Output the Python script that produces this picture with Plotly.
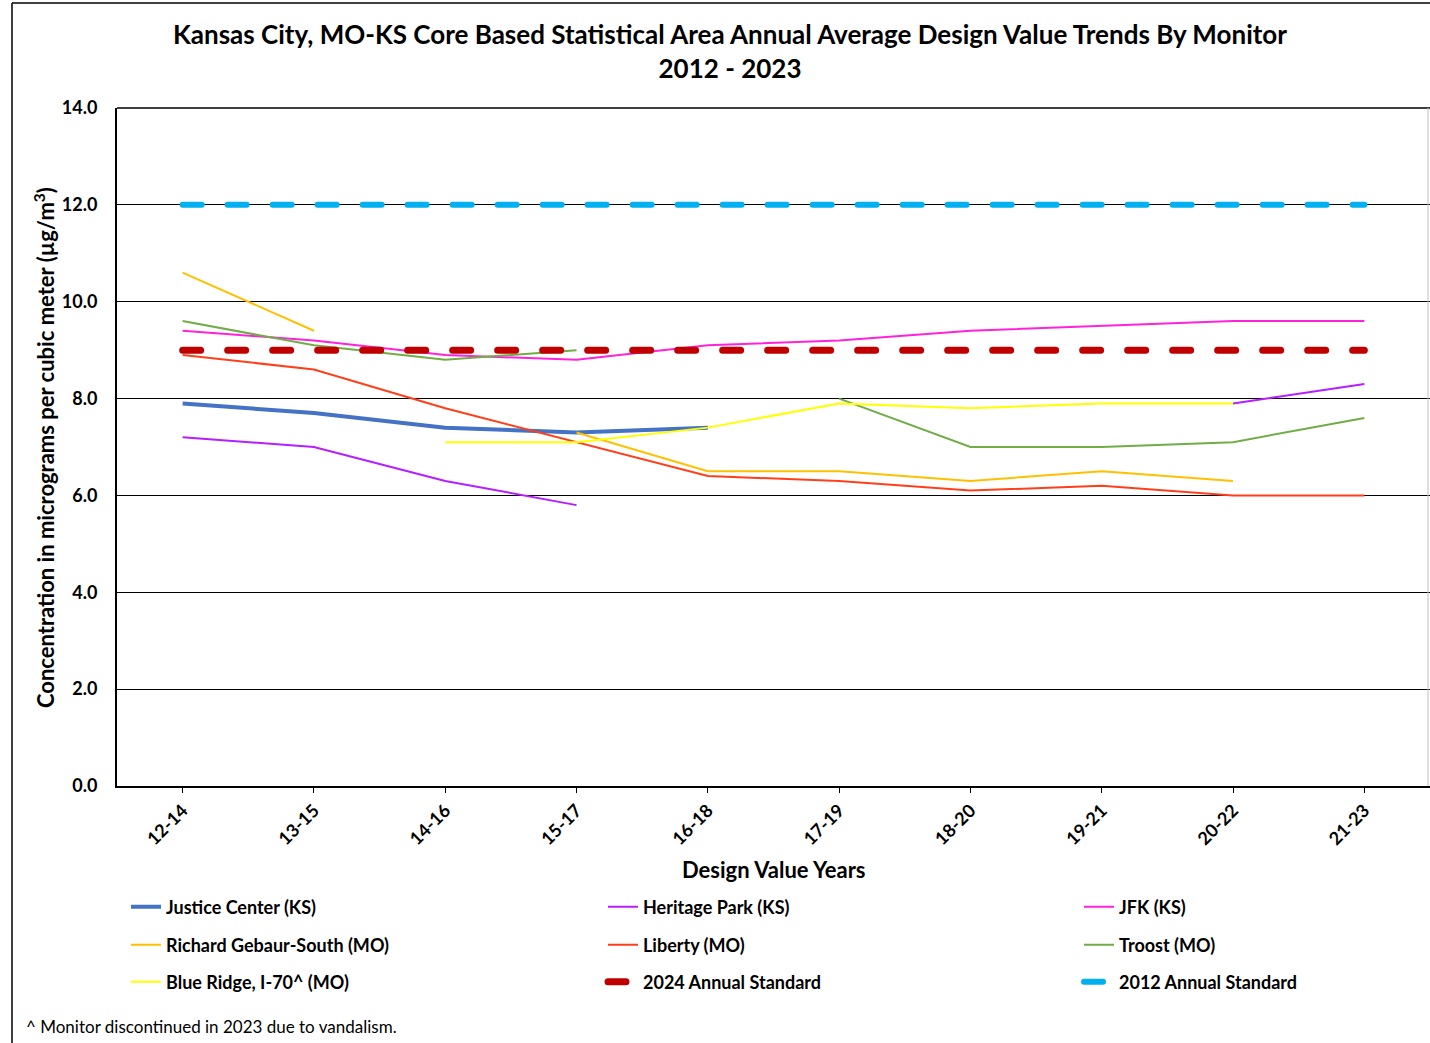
import plotly.graph_objects as go

categories = ["12-14", "13-15", "14-16", "15-17", "16-18", "17-19", "18-20", "19-21", "20-22", "21-23"]

justice_center = [7.9, 7.7, 7.4, 7.3, 7.4, None, None, None, None, None]
heritage_park = [7.2, 7.0, 6.3, 5.8, None, None, None, None, 7.9, 8.3]
jfk = [9.4, 9.2, 8.9, 8.8, 9.1, 9.2, 9.4, 9.5, 9.6, 9.6]
gebaur_south = [10.6, 9.4, None, 7.3, 6.5, 6.5, 6.3, 6.5, 6.3, None]
liberty = [8.9, 8.6, 7.8, 7.1, 6.4, 6.3, 6.1, 6.2, 6.0, 6.0]
troost = [9.6, 9.1, 8.8, 9.0, None, 8.0, 7.0, 7.0, 7.1, 7.6]
blue_ridge = [None, None, 7.1, 7.1, 7.4, 7.9, 7.8, 7.9, 7.9, None]
std_2024 = [9.0] * 10
std_2012 = [12.0] * 10

y_ticks = [0, 2, 4, 6, 8, 10, 12, 14]

FONT = "Lato"
W, H = 1430, 1043
L, T, B = 117, 108, 257
PW, PH = W - L, H - T - B  # plot area size in px


def px_x(x):
    return (x - L) / PW


def px_y(y):
    return (H - B - y) / PH


series = [
    ("Justice Center (KS)", justice_center, "#4472C4", 4, "solid"),
    ("Heritage Park (KS)", heritage_park, "#B71EFF", 2, "solid"),
    ("JFK (KS)", jfk, "#FF22DD", 2, "solid"),
    ("Richard Gebaur-South (MO)", gebaur_south, "#FFC000", 2, "solid"),
    ("Liberty (MO)", liberty, "#FF3F1A", 2, "solid"),
    ("Troost (MO)", troost, "#70AD47", 2, "solid"),
    ("Blue Ridge, I-70^ (MO)", blue_ridge, "#FFFF00", 2, "solid"),
    ("2024 Annual Standard", std_2024, "#C00000", 7, "18px,27px"),
    ("2012 Annual Standard", std_2012, "#00B0F0", 6, "19px,26px"),
]

col_x = [126, 603, 1079]
row_y = [907, 945, 982]
leg_font = dict(family=FONT, size=18, color="black", weight="bold")

fig = go.Figure()
legends = {}
for i, (name, vals, color, width, dash) in enumerate(series):
    key = "legend" if i == 0 else f"legend{i + 1}"
    fig.add_trace(go.Scatter(
        x=categories, y=vals, name=name, mode="lines",
        line=dict(color=color, width=width, dash=dash),
        connectgaps=False, legend=key,
    ))
    legends[key] = dict(
        orientation="v", xref="container", yref="container",
        x=col_x[i % 3] / W, xanchor="left",
        y=1 - row_y[i // 3] / H, yanchor="middle",
        font=leg_font, bgcolor="rgba(0,0,0,0)", borderwidth=0,
    )

fig.update_layout(
    width=W, height=H,
    margin=dict(l=L, r=0, t=T, b=B, autoexpand=False),
    paper_bgcolor="white", plot_bgcolor="white",
    title=dict(
        text="Kansas City, MO-KS Core Based Statistical Area Annual Average Design Value Trends By Monitor<br>2012 - 2023",
        x=730 / W, xanchor="center", y=1 - 44 / H, yanchor="middle",
        font=dict(family=FONT, size=26, color="black", weight="bold"),
    ),
    showlegend=True,
    **legends,
)

fig.update_xaxes(
    type="category", range=[-0.5, 9.5], automargin=False,
    showline=True, linecolor="black", linewidth=2,
    ticks="outside", ticklen=5, tickcolor="black", tickwidth=1,
    tickangle=-45,
    tickfont=dict(family=FONT, size=18, color="black", weight="bold"),
    showgrid=False, zeroline=False,
)
fig.update_yaxes(
    range=[0, 14], tickvals=y_ticks, tickformat=".1f", automargin=False,
    showline=True, linecolor="black", linewidth=2,
    showgrid=True, gridcolor="black", gridwidth=1,
    zeroline=False, ticks="",
    ticklabelstandoff=14,
    tickfont=dict(family=FONT, size=18, color="black", weight="bold"),
)

# x axis title
fig.add_annotation(
    text="Design Value Years", xref="paper", yref="paper",
    x=px_x(774), y=px_y(869), xanchor="center", yanchor="middle",
    showarrow=False, font=dict(family=FONT, size=22, color="black", weight="bold"),
)
# y axis title
fig.add_annotation(
    text="Concentration in micrograms per cubic meter (µg/m<sup>3</sup>)",
    xref="paper", yref="paper",
    x=px_x(44), y=px_y(448), xanchor="center", yanchor="middle",
    textangle=-90, showarrow=False,
    font=dict(family=FONT, size=22, color="black", weight="bold"),
)
# footnote
fig.add_annotation(
    text="^ Monitor discontinued in 2023 due to vandalism.",
    xref="paper", yref="paper",
    x=px_x(24), y=px_y(1026), xanchor="left", yanchor="middle",
    showarrow=False, font=dict(family=FONT, size=17, color="black"),
)
# top border of plot area and light right edge
fig.add_shape(type="line", xref="paper", yref="paper", x0=0, x1=1, y0=1, y1=1,
              line=dict(color="black", width=1.5))
fig.add_shape(type="line", xref="paper", yref="paper", x0=px_x(1428), x1=px_x(1428), y0=0, y1=1,
              line=dict(color="#BFBFBF", width=1))
# outer chart frame (left and top edges)
fig.add_shape(type="line", xref="paper", yref="paper",
              x0=px_x(12), x1=px_x(12), y0=px_y(H), y1=px_y(3),
              line=dict(color="black", width=1.5))
fig.add_shape(type="line", xref="paper", yref="paper",
              x0=px_x(12), x1=1, y0=px_y(3), y1=px_y(3),
              line=dict(color="black", width=1.5))

post = """
document.body.style.margin='0';
document.body.style.overflow='hidden';
function roundCaps(){
  document.querySelectorAll('path.js-line, g.legendlines path').forEach(function(p){
    var da = p.style.strokeDasharray;
    if (da && da !== 'none' && da !== '') { p.style.strokeLinecap = 'round'; }
  });
}
roundCaps(); setTimeout(roundCaps, 50); setTimeout(roundCaps, 300);
"""

fig.write_html("out.html", config={"displayModeBar": False}, post_script=post)
